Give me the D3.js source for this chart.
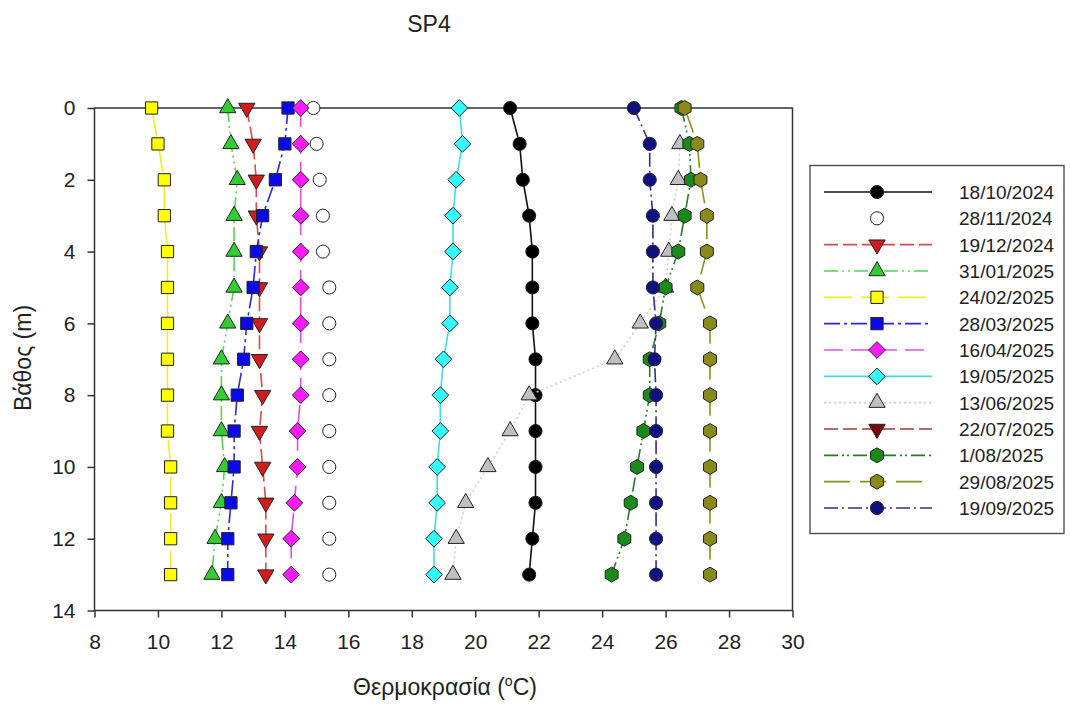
<!DOCTYPE html>
<html>
<head>
<meta charset="utf-8">
<script src="https://cdn.jsdelivr.net/npm/d3@7"></script>
<style>
body { margin:0; background:#fff; }
text { font-family: "Liberation Sans", Arial, sans-serif; fill:#222; }
</style>
</head>
<body>
<div class="profile"></div>
<script>
// depth (m) of every reading
var depths = [0,1,2,3,4,5,6,7,8,9,10,11,12,13]

// temperature (oC) for each sampling date, one value per depth (null = no reading)
var oct18_2024 = [21.1,21.4,21.5,21.7,21.8,21.8,21.8,21.9,21.9,21.9,21.9,21.9,21.8,21.7]
var nov28_2024 = [14.9,15.0,15.1,15.2,15.2,15.4,15.4,15.4,15.4,15.4,15.4,15.4,15.4,15.4]
var dec19_2024 = [12.8,13.0,13.1,13.1,13.2,13.2,13.2,13.2,13.3,13.2,13.3,13.4,13.4,13.4]
var jan31_2025 = [12.2,12.3,12.5,12.4,12.4,12.4,12.2,12.0,12.0,12.0,12.1,12.0,11.8,11.7]
var feb24_2025 = [9.8,10.0,10.2,10.2,10.3,10.3,10.3,10.3,10.3,10.3,10.4,10.4,10.4,10.4]
var mar28_2025 = [14.1,14.0,13.7,13.3,13.1,13.0,12.8,12.7,12.5,12.4,12.4,12.3,12.2,12.2]
var apr16_2025 = [14.5,14.5,14.5,14.5,14.5,14.5,14.5,14.5,14.5,14.4,14.4,14.3,14.2,14.2]
var may19_2025 = [19.5,19.6,19.4,19.3,19.3,19.2,19.2,19.0,18.9,18.9,18.8,18.8,18.7,18.7]
var jun13_2025 = [null,26.45,26.4,26.2,26.1,26.0,25.2,24.4,21.7,21.1,20.4,19.7,19.4,19.3]
var jul22_2025 = [] // only in the legend
var aug01_2025 = [26.5,26.75,26.8,26.6,26.4,26.0,25.8,25.5,25.5,25.3,25.1,24.9,24.7,24.3]
var aug29_2025 = [26.6,27.0,27.1,27.3,27.3,27.0,27.4,27.4,27.4,27.4,27.4,27.4,27.4,27.4]
var sep19_2025 = [25.0,25.5,25.5,25.6,25.6,25.6,25.7,25.65,25.7,25.7,25.7,25.7,25.7,25.7]

var dates = ["18/10/2024","28/11/2024","19/12/2024","31/01/2025","24/02/2025","28/03/2025","16/04/2025",
	"19/05/2025","13/06/2025","22/07/2025","1/08/2025","29/08/2025","19/09/2025"]
var xTicks = [8,10,12,14,16,18,20,22,24,26,28,30]
var yTicks = [0,2,4,6,8,10,12,14]

//custom symbols
var symDown = {draw: function(c, size){
	var s = Math.sqrt(size*4/Math.sqrt(3)), h = s*Math.sqrt(3)/2
	c.moveTo(-s/2,-h/3); c.lineTo(s/2,-h/3); c.lineTo(0,2*h/3); c.closePath()
}}
var symUp = {draw: function(c, size){
	var s = Math.sqrt(size*4/Math.sqrt(3)), h = s*Math.sqrt(3)/2
	c.moveTo(-s/2,h/3); c.lineTo(s/2,h/3); c.lineTo(0,-2*h/3); c.closePath()
}}
var symDiamond = {draw: function(c, size){
	var r = Math.sqrt(size/2)
	c.moveTo(0,-r); c.lineTo(r,0); c.lineTo(0,r); c.lineTo(-r,0); c.closePath()
}}
var symHex = {draw: function(c, size){
	var r = Math.sqrt(size/(1.5*Math.sqrt(3)))
	for (var k = 0; k < 6; k++) {
		var a = Math.PI/3*k - Math.PI/2
		if (k == 0) c.moveTo(r*Math.cos(a), r*Math.sin(a)); else c.lineTo(r*Math.cos(a), r*Math.sin(a))
	}
	c.closePath()
}}

var series = [
	{values:oct18_2024, sym:d3.symbolCircle, size:135, fill:"#000000", line:"#111111", dash:null},
	{values:nov28_2024, sym:d3.symbolCircle, size:135, fill:"#ffffff", line:null, dash:null},
	{values:dec19_2024, sym:symDown, size:115, fill:"#d01c1c", line:"#e04848", dash:"14,5"},
	{values:jan31_2025, sym:symUp, size:115, fill:"#33cc33", line:"#55d455", dash:"14,4,2,4,2,4"},
	{values:feb24_2025, sym:d3.symbolSquare, size:150, fill:"#ffff00", line:"#eeee22", dash:"28,9"},
	{values:mar28_2025, sym:d3.symbolSquare, size:150, fill:"#0a0ae8", line:"#2a2ad8", dash:"16,4,3,4"},
	{values:apr16_2025, sym:symDiamond, size:140, fill:"#ff1aff", line:"#e050e0", dash:"19,8"},
	{values:may19_2025, sym:symDiamond, size:140, fill:"#33ffff", line:"#40dede", dash:null},
	{values:jun13_2025, sym:symUp, size:115, fill:"#c0c0c0", line:"#cfcfcf", dash:"2,3"},
	{values:jul22_2025, sym:symDown, size:115, fill:"#7a0808", line:"#a03a3a", dash:"14,5"},
	{values:aug01_2025, sym:symHex, size:145, fill:"#1a8a1a", line:"#2a7a2a", dash:"14,4,2,3,2,4"},
	{values:aug29_2025, sym:symHex, size:145, fill:"#8a8a1a", line:"#90901e", dash:"26,10"},
	{values:sep19_2025, sym:d3.symbolCircle, size:135, fill:"#101080", line:"#303088", dash:"14,4,2,4"}
]

var width = 1070
var height = 707
var svg = d3.select(".profile").append("svg").attr("width",width).attr("height",height)

//scales
var x = d3.scaleLinear().domain([8,30]).range([94.5,792.5])
var y = d3.scaleLinear().domain([0,14]).range([108,610.5])

//title
svg.append("text").attr("x",429).attr("y",32).attr("text-anchor","middle")
	.style("font-size","23px").text("SP4")

//axes
var xAxis = svg.append("g").attr("transform","translate(0,"+y(14)+")")
	.call(d3.axisBottom(x).tickValues(xTicks).tickSize(7).tickPadding(17).tickSizeOuter(0))
var yAxis = svg.append("g").attr("transform","translate("+x(8)+",0)")
	.call(d3.axisLeft(y).tickValues(yTicks).tickSize(7).tickPadding(12).tickSizeOuter(0))
;[xAxis,yAxis].forEach(function(a){
	a.select(".domain").remove()
	a.selectAll("line").attr("stroke","#333").attr("stroke-width",1.5)
	a.selectAll("text").style("font-size","21px").attr("fill","#222").style("font-family","'Liberation Sans', Arial, sans-serif")
})

//frame
svg.append("rect").attr("x",x(8)).attr("y",y(0)).attr("width",x(30)-x(8)).attr("height",y(14)-y(0))
	.attr("fill","none").attr("stroke","#333").attr("stroke-width",1.5)

//axis titles
var xt = svg.append("text").attr("x",445).attr("y",695).attr("text-anchor","middle").style("font-size","23px")
xt.append("tspan").text("Θερμοκρασία (")
xt.append("tspan").attr("dy",-9).style("font-size","14px").text("o")
xt.append("tspan").attr("dy",9).text("C)")
svg.append("text").attr("transform","translate(31,358) rotate(-90)").attr("text-anchor","middle")
	.style("font-size","23px").text("Βάθος (m)")

//profiles
var line = d3.line().defined(function(d){return d[0] != null})
	.x(function(d){return x(d[0])}).y(function(d){return y(d[1])})
series.forEach(function(s,i){
	var pts = s.values.map(function(v,j){return [v,depths[j]]})
	var g = svg.append("g").attr("class","series s"+i)
	if (s.line && pts.length) {
		g.append("path").datum(pts).attr("d",line).attr("fill","none")
			.attr("stroke",s.line).attr("stroke-width",1.6).attr("stroke-dasharray",s.dash)
	}
	g.selectAll("path.mark").data(pts.filter(function(d){return d[0] != null})).enter().append("path").attr("class","mark")
		.attr("transform",function(d){return "translate("+x(d[0])+","+y(d[1])+")"})
		.attr("d",d3.symbol().type(s.sym).size(s.size))
		.attr("fill",s.fill).attr("stroke","#222").attr("stroke-width",1)
})

//legend
var lg = svg.append("g").attr("class","legend")
lg.append("rect").attr("x",810).attr("y",165.5).attr("width",254).attr("height",368)
	.attr("fill","#fff").attr("stroke","#444").attr("stroke-width",1.3)
var row = d3.scaleLinear().domain([0,12]).range([192,508])
series.forEach(function(s,i){
	var ly = row(i)
	if (s.line) {
		lg.append("line").attr("x1",824).attr("x2",932).attr("y1",ly).attr("y2",ly)
			.attr("stroke",s.line).attr("stroke-width",1.6).attr("stroke-dasharray",s.dash)
	}
	lg.append("path").attr("transform","translate(877,"+ly+")")
		.attr("d",d3.symbol().type(s.sym).size(s.size))
		.attr("fill",s.fill).attr("stroke","#222").attr("stroke-width",1)
	lg.append("text").attr("x",959).attr("y",ly).attr("dy","0.36em").style("font-size","19px").text(dates[i])
})
</script>
</body>
</html>
